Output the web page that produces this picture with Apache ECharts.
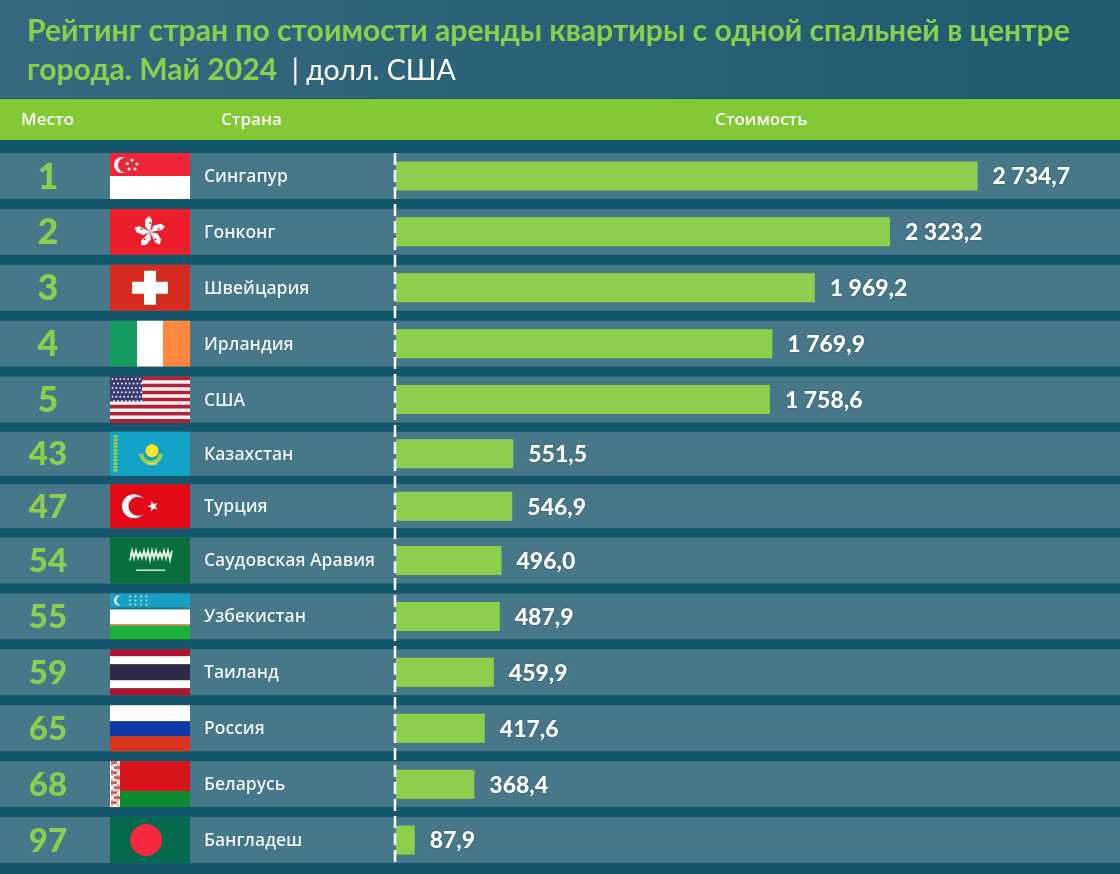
<!DOCTYPE html>
<html>
<head>
<meta charset="utf-8">
<title>Рейтинг стран</title>
<style>
html,body{margin:0;padding:0;background:#14566b;}
#chart{width:1120px;height:874px;}
</style>
<script src="https://cdn.jsdelivr.net/npm/echarts@6/dist/echarts.min.js"></script>
</head>
<body>
<div id="chart"></div>
<script>
var places = [1, 2, 3, 4, 5, 43, 47, 54, 55, 59, 65, 68, 97];
var countries = ['Сингапур', 'Гонконг', 'Швейцария', 'Ирландия', 'США', 'Казахстан', 'Турция', 'Саудовская Аравия', 'Узбекистан', 'Таиланд', 'Россия', 'Беларусь', 'Бангладеш'];
var values = [2734.7, 2323.2, 1969.2, 1769.9, 1758.6, 551.5, 546.9, 496.0, 487.9, 459.9, 417.6, 368.4, 87.9];
var flags = ['sg', 'hk', 'ch', 'ie', 'us', 'kz', 'tr', 'sa', 'uz', 'th', 'ru', 'by', 'bd'];
var headers = ['Место', 'Страна', 'Стоимость'];

// the picture has three row heights, so one grid per block of rows
var blocks = [
    {from: 0, to: 5, top: 148, height: 279.5, gap: 10},
    {from: 5, to: 7, top: 427.5, height: 105, gap: 8.5},
    {from: 7, to: 13, top: 532.5, height: 335.5, gap: 10}
];

var fontMain = 'Lato, "Open Sans", sans-serif';
var fontRow = '"Open Sans", sans-serif';
var green = '#8bcf4c';

function box(x, y, w, h, color){
    return {type: 'rect', shape: {x: x, y: y, width: w, height: h}, style: {fill: color}};
}
function dot(x, y, r, color){
    return {type: 'circle', shape: {cx: x, cy: y, r: r}, style: {fill: color}};
}
function star(x, y, r, color, turn){
    var pts = [];
    for (var i = 0; i < 10; i++){
        var a = (turn || -Math.PI / 2) + i * Math.PI / 5;
        var d = i % 2 ? r * 0.42 : r;
        pts.push([x + d * Math.cos(a), y + d * Math.sin(a)]);
    }
    return {type: 'polygon', shape: {points: pts}, style: {fill: color}};
}
function petal(x, y, a, len, wid, color){
    var cos = Math.cos(a), sin = Math.sin(a);
    function p(u, v){ return [x + u * cos - v * sin, y + u * sin + v * cos]; }
    return {type: 'polygon', shape: {points: [p(0, 0), p(len * 0.35, -wid), p(len * 0.8, -wid * 0.9), p(len, -wid * 0.1), p(len * 0.75, wid * 0.4), p(len * 0.3, wid * 0.2)]}, style: {fill: color}};
}

// flags are drawn in local coordinates, 80 wide and h tall
function drawFlag(code, h){
    var c = [], i, j;
    if (code == 'sg'){
        c.push(box(0, 0, 80, h / 2, '#ee2536'), box(0, h / 2, 80, h / 2, '#ffffff'));
        c.push(dot(12, 12, 8, '#ffffff'), dot(15.5, 12, 7.5, '#ee2536'));
        c.push(dot(22, 7, 1.6, '#fff'), dot(27, 11, 1.6, '#fff'), dot(25, 16, 1.6, '#fff'), dot(19, 16, 1.6, '#fff'), dot(17.5, 10.5, 1.6, '#fff'));
    } else if (code == 'hk'){
        c.push(box(0, 0, 80, h, '#ed1c2b'));
        for (i = 0; i < 5; i++){
            c.push(petal(40, 23, -Math.PI / 2 + i * 2 * Math.PI / 5, 16, 5, '#ffffff'));
        }
        for (i = 0; i < 5; i++){
            var ang = -Math.PI / 2 + i * 2 * Math.PI / 5;
            c.push(dot(40 + 9 * Math.cos(ang), 23 + 9 * Math.sin(ang), 1, '#ed1c2b'));
        }
    } else if (code == 'ch'){
        c.push(box(0, 0, 80, h, '#d52b1e'), box(22, h / 2 - 6, 36, 12, '#ffffff'), box(34, h / 2 - 17, 12, 34, '#ffffff'));
    } else if (code == 'ie'){
        c.push(box(0, 0, 27, h, '#169b62'), box(27, 0, 26, h, '#ffffff'), box(53, 0, 27, h, '#ff883e'));
    } else if (code == 'us'){
        var s = h / 13;
        for (i = 0; i < 13; i++){
            c.push(box(0, i * s, 80, s + 0.4, i % 2 ? '#f6f0f2' : '#b22234'));
        }
        c.push(box(0, 0, 32, s * 7, '#3c3b6e'));
        for (j = 0; j < 6; j++){
            for (i = 0; i < 8; i++){
                c.push(dot(2.5 + i * 3.9 + (j % 2) * 1.5, 2.5 + j * 4.4, 1, '#dfe3f2'));
            }
        }
    } else if (code == 'kz'){
        c.push(box(0, 0, 80, h, '#12a3c6'));
        for (i = 0; i < 11; i++){
            c.push(box(3.5, 3.5 + i * 3.4, 4, 2.5, '#a3cf45'));
        }
        c.push({type: 'arc', shape: {cx: 41, cy: 21, r: 10, startAngle: 0.1, endAngle: Math.PI - 0.1}, style: {fill: 'none', stroke: '#a3cf45', lineWidth: 4}});
        c.push(dot(42, 19, 6.5, '#ffe32b'), box(37, 31, 10, 2, '#e4d95a'));
    } else if (code == 'tr'){
        c.push(box(0, 0, 80, h, '#e30a17'), dot(24, h / 2, 12, '#ffffff'), dot(28, h / 2, 9.5, '#e30a17'), star(43, h / 2, 5.5, '#ffffff', Math.PI));
    } else if (code == 'sa'){
        c.push(box(0, 0, 80, h, '#0a6f3c'));
        var pts = [];
        for (i = 0; i < 22; i++){
            pts.push([20 + i * 2, (i % 2 ? 13 : 21) + (i % 5 == 0 ? 2 : 0)]);
        }
        c.push({type: 'polyline', shape: {points: pts}, style: {fill: 'none', stroke: '#dff0e4', lineWidth: 1.6}});
        c.push(box(20, 15, 42, 4, 'rgba(255,255,255,0.35)'), box(26, 32, 29, 1.4, '#dff0e4'));
    } else if (code == 'uz'){
        c.push(box(0, 0, 80, 14, '#17a0c4'), box(0, 14, 80, 2, '#1a7f88'), box(0, 16, 80, 15, '#ffffff'), box(0, 31, 80, 1.5, '#c8854a'), box(0, 32.5, 80, h - 32.5, '#1eb13a'));
        c.push(dot(9, 7, 5, '#ffffff'), dot(11, 7, 4.6, '#17a0c4'));
        for (j = 0; j < 3; j++){
            for (i = 0; i < 4; i++){
                c.push(dot(20 + i * 5.5, 3 + j * 4, 0.9, '#d5eef6'));
            }
        }
    } else if (code == 'th'){
        c.push(box(0, 0, 80, 7, '#ad1431'), box(0, 7, 80, 8, '#ffffff'), box(0, 15, 80, 16, '#2d2a4a'), box(0, 31, 80, 8, '#ffffff'), box(0, 39, 80, h - 39, '#ad1431'));
    } else if (code == 'ru'){
        c.push(box(0, 0, 80, 16, '#ffffff'), box(0, 16, 80, 15, '#0f39a6'), box(0, 31, 80, h - 31, '#d8341e'));
    } else if (code == 'by'){
        c.push(box(0, 0, 80, 30, '#d7141a'), box(0, 30, 80, h - 30, '#0b8a30'), box(0, 0, 10, h, '#ffffff'));
        for (j = 0; j < 9; j++){
            c.push(box(1 + (j % 2) * 3, j * 5, 6, 3, '#d9584f'), box(1, j * 5 + 3, 2, 2, '#e99b90'), box(7, j * 5 + 3, 2, 2, '#e99b90'));
        }
    } else if (code == 'bd'){
        c.push(box(0, 0, 80, h, '#05694e'), dot(36, h / 2, 16, '#f42a41'));
    }
    return c;
}

function formatValue(v){
    var parts = v.toFixed(1).split('.');
    return parts[0].replace(/\B(?=(\d{3})+$)/g, ' ') + ',' + parts[1];
}

function rowRenderer(block){
    return function(params, api){
        var i = api.value(1);
        var n = block.from + i;
        var cy = api.coord([0, i])[1];
        var h = api.size([0, 1])[1] - block.gap;
        var top = cy - h / 2;
        return {
            type: 'group',
            children: [
                box(0, top, 1120, h, '#47788a'),
                {type: 'text', x: 48, y: cy + 1, style: {text: String(places[n]), font: '900 ' + (places[n] < 10 ? 36 : 33) + 'px ' + fontMain, fill: green, align: 'center', verticalAlign: 'middle'}},
                {type: 'group', x: 110, y: top, children: drawFlag(flags[n], h)},
                {type: 'text', x: 204, y: cy + 1, style: {text: countries[n], font: '600 17.5px ' + fontRow, fill: '#f2f7f7', align: 'left', verticalAlign: 'middle', textShadowColor: 'rgba(10,50,65,0.7)', textShadowBlur: 1}}
            ]
        };
    };
}

var grids = [], xAxes = [], yAxes = [], seriesList = [];
blocks.forEach(function(b, k){
    grids.push({left: 396, width: 723, top: b.top, height: b.height});
    xAxes.push({type: 'value', gridIndex: k, min: 0, max: 3400, show: false});
    yAxes.push({type: 'category', gridIndex: k, inverse: true, show: false, data: countries.slice(b.from, b.to)});
    var rows = [];
    for (var i = 0; i < b.to - b.from; i++){ rows.push([0, i]); }
    seriesList.push({
        type: 'custom', xAxisIndex: k, yAxisIndex: k, z: 1, silent: true, clip: false,
        encode: {x: 0, y: 1}, data: rows, renderItem: rowRenderer(b)
    });
    seriesList.push({
        type: 'bar', xAxisIndex: k, yAxisIndex: k, z: 2, barWidth: 29, silent: true,
        data: values.slice(b.from, b.to),
        itemStyle: {color: green},
        label: {
            show: true, position: 'right', distance: 15, offset: [0, 1], color: '#ffffff',
            fontFamily: fontMain, fontWeight: 900, fontSize: 23,
            textShadowColor: 'rgba(10,50,65,0.7)', textShadowBlur: 2,
            formatter: function(p){ return formatValue(p.value); }
        }
    });
});

function headerText(text, x){
    return {type: 'text', x: x, y: 120, z: 6, style: {text: text, font: '600 17px ' + fontRow, fill: '#ffffff', align: 'left', verticalAlign: 'middle'}};
}

var option = {
    animation: false,
    backgroundColor: '#14566b',
    title: {
        left: 22, top: 7,
        text: '{a|Рейтинг стран по стоимости аренды квартиры с одной спальней в центре}\n{a|города. Май 2024}{b|  | долл. США}',
        textStyle: {
            rich: {
                a: {fontFamily: fontMain, fontWeight: 'bold', fontSize: 30.1, color: green, lineHeight: 39},
                b: {fontFamily: fontMain, fontWeight: 'normal', fontSize: 28.5, color: '#ffffff', lineHeight: 39}
            }
        }
    },
    graphic: [
        {type: 'rect', z: 0, shape: {x: 0, y: 0, width: 1120, height: 98}, style: {fill: new echarts.graphic.LinearGradient(0, 0, 1, 0, [{offset: 0, color: '#36697f'}, {offset: 1, color: '#1f5a6e'}])}},
        {type: 'rect', z: 5, shape: {x: 0, y: 99, width: 1120, height: 41}, style: {fill: '#82c935'}},
        headerText(headers[0], 21),
        headerText(headers[1], 221),
        headerText(headers[2], 715),
        {type: 'line', z: 7, shape: {x1: 395, y1: 153, x2: 395, y2: 864}, style: {stroke: '#ffffff', lineWidth: 2.5, lineDash: [12, 5]}}
    ],
    grid: grids,
    xAxis: xAxes,
    yAxis: yAxes,
    series: seriesList
};

var myChart = echarts.init(document.getElementById('chart'));
myChart.setOption(option);
</script>
</body>
</html>
